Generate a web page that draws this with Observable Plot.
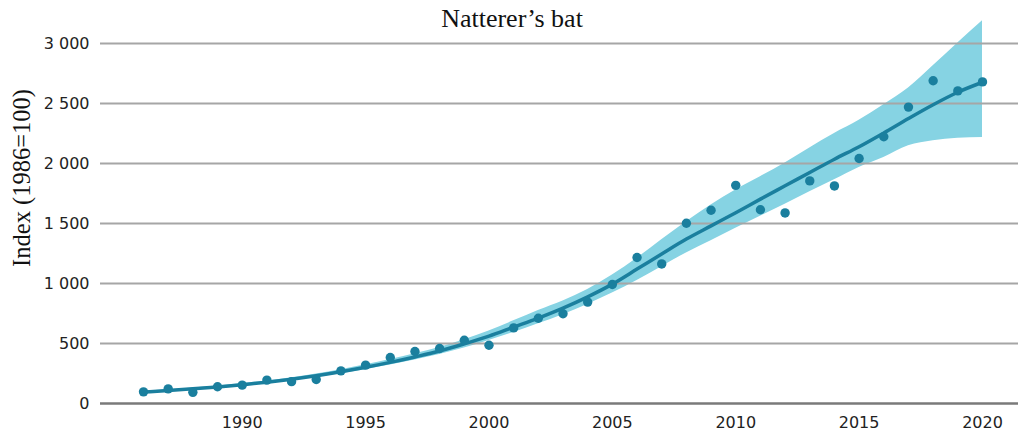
<!DOCTYPE html>
<html>
<head>
<meta charset="utf-8">
<script src="https://cdn.jsdelivr.net/npm/d3@7"></script>
<script src="https://cdn.jsdelivr.net/npm/@observablehq/plot@0.6"></script>
<style>
  html, body { margin: 0; padding: 0; background: #fff; }
  #wrap { position: relative; width: 1024px; height: 436px; overflow: hidden; }
  #title { position: absolute; top: 6px; left: 0; width: 1024px; text-align: center;
           font-family: "Liberation Serif", "Times New Roman", serif; font-size: 26px; line-height: 1; color: #111; }
  #chart { position: absolute; top: 34px; left: 0; }
</style>
</head>
<body>
<div id="wrap">
  <div id="title">Natterer’s bat</div>
  <div id="chart"></div>
</div>
<script>
const years = [1986,1987,1988,1989,1990,1991,1992,1993,1994,1995,1996,1997,1998,1999,2000,2001,2002,2003,2004,2005,2006,2007,2008,2009,2010,2011,2012,2013,2014,2015,2016,2017,2018,2019,2020];
const indexValues = [97,122,93,140,153,195,182,200,272,320,383,433,458,527,485,630,710,748,845,992,1217,1163,1502,1610,1818,1615,1588,1855,1813,2042,2223,2470,2690,2605,2680];
const trend = [95,108,122,138,157,178,203,232,265,302,343,388,437,497,562,637,712,795,889,995,1120,1246,1370,1480,1590,1703,1814,1925,2036,2140,2255,2375,2490,2594,2677];
const lower = [90,102,115,130,148,168,191,218,248,282,320,362,408,462,525,592,664,740,825,920,1025,1140,1255,1356,1460,1560,1660,1765,1865,1967,2050,2147,2189,2211,2217];
const upper = [100,114,129,146,166,188,215,246,282,322,366,414,466,532,605,689,775,855,950,1070,1210,1365,1515,1655,1780,1890,2005,2130,2250,2360,2490,2630,2815,3005,3190];
const xTicks = [1990,1995,2000,2005,2010,2015,2020];
const yTicks = [0,500,1000,1500,2000,2500,3000];
const yLabel = "Index (1986=100)";

const data = years.map((year, i) => ({year, index: indexValues[i], trend: trend[i], lower: lower[i], upper: upper[i]}));
const fmt = d => d3.format(",")(d).replace(/,/g, " ");
const dark = "#1a7f9e";

const chart = Plot.plot({
  width: 1024,
  height: 402,
  marginTop: 9,
  marginBottom: 33,
  marginLeft: 100,
  marginRight: 6,
  x: {domain: [1984.257, 2021.459]},
  y: {domain: [0, 3000]},
  style: {fontFamily: "DejaVu Sans", fontSize: "16px", color: "#222", background: "white", overflow: "visible"},
  marks: [
    Plot.areaY(data, {x: "year", y1: "lower", y2: "upper", fill: "#86d3e3", curve: "monotone-x"}),
    Plot.ruleY(yTicks.filter(d => d > 0), {stroke: "#a6a6a6", strokeWidth: 2}),
    Plot.ruleY([0], {stroke: "#7a7a7a", strokeWidth: 2.5}),
    Plot.line(data, {x: "year", y: "trend", stroke: dark, strokeWidth: 3.5, curve: "monotone-x"}),
    Plot.dot(data, {x: "year", y: "index", r: 4.7, fill: dark, stroke: "none"}),
    Plot.axisX(xTicks, {tickSize: 0, tickPadding: 13, tickFormat: d => String(d), label: null, fontSize: 16}),
    Plot.axisY(yTicks, {tickSize: 0, tickPadding: 11, tickFormat: fmt, label: null, fontSize: 16}),
    Plot.text([yLabel], {frameAnchor: "left", textAnchor: "middle", lineAnchor: "middle", rotate: -90,
      dx: -78.5, dy: -45.5, text: d => d,
      fontFamily: "Liberation Serif", fontSize: 24.5, fill: "#111"})
  ]
});
document.getElementById("chart").appendChild(chart);
</script>
</body>
</html>
